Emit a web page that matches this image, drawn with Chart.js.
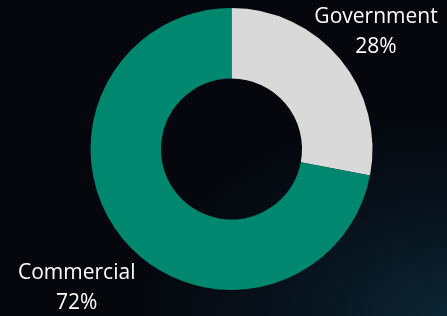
<!DOCTYPE html>
<html>
<head>
<meta charset="utf-8">
<script src="https://cdn.jsdelivr.net/npm/chart.js@4"></script>
<style>
  html, body { margin: 0; padding: 0; }
  body {
    width: 447px; height: 316px; overflow: hidden;
    background: radial-gradient(ellipse 70% 65% at 100% 100%, #0c2532 0%, #07111b 55%, #05070d 100%);
    background-color: #05070d;
  }
  #wrap { position: relative; width: 447px; height: 316px; }
</style>
</head>
<body>
<div id="wrap"><canvas id="donutChart"></canvas></div>
<script>
// Chart data
const categories = ['Government', 'Commercial'];
const shares = [28, 72];
const sliceColors = ['#d9d9d9', '#00876f'];

// label placement: multiple of outer radius, then a small pixel nudge
const labelReach = [1.33, 1.48];
const labelNudge = [[0, 3], [6, 6]];

// Draw "Name / xx%" labels outside each slice
const outsideLabels = {
    id: 'outsideLabels',
    afterDatasetsDraw(chart) {
        const ctx = chart.ctx;
        const meta = chart.getDatasetMeta(0);
        ctx.save();
        ctx.fillStyle = '#ffffff';
        ctx.textAlign = 'center';
        ctx.textBaseline = 'middle';
        ctx.font = '21px "Open Sans", sans-serif';
        meta.data.forEach((arc, i) => {
            const mid = (arc.startAngle + arc.endAngle) / 2;
            const r = arc.outerRadius * labelReach[i];
            const x = arc.x + Math.cos(mid) * r + labelNudge[i][0];
            const y = arc.y + Math.sin(mid) * r + labelNudge[i][1];
            ctx.fillText(categories[i], x, y - 15);
            ctx.fillText(shares[i] + '%', x, y + 15);
        });
        ctx.restore();
    }
};

window.onload = function() {
    const ctx = document.getElementById('donutChart').getContext('2d');
    new Chart(ctx, {
        type: 'doughnut',
        data: {
            labels: categories,
            datasets: [{
                data: shares,
                backgroundColor: sliceColors,
                borderWidth: 0
            }]
        },
        options: {
            responsive: true,
            maintainAspectRatio: false,
            animation: false,
            cutout: '50%',
            layout: { padding: { top: 8, bottom: 26, left: 90, right: 74 } },
            plugins: {
                legend: { display: false },
                tooltip: { enabled: false }
            }
        },
        plugins: [outsideLabels]
    });
};
</script>
</body>
</html>
